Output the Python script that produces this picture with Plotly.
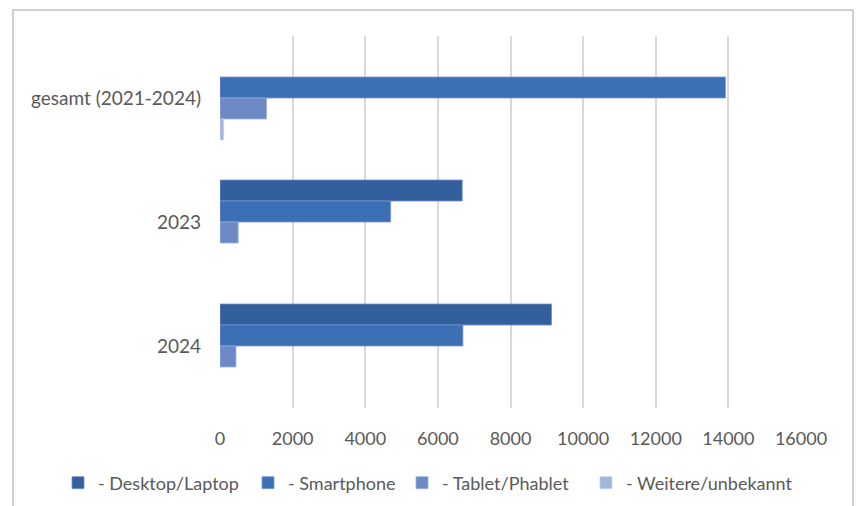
import plotly.graph_objects as go

categories = ["gesamt (2021-2024)", "2023", "2024"]
series_names = ["- Desktop/Laptop", "- Smartphone", "- Tablet/Phablet", "- Weitere/unbekannt"]
desktop = [None, 6670, 9130]
smartphone = [13920, 4700, 6690]
tablet = [1280, 500, 440]
weitere = [100, None, None]
x_ticks = [0, 2000, 4000, 6000, 8000, 10000, 12000, 14000, 16000]

colors = ["#335F9D", "#3D6FB5", "#6D8AC7", "#A3B5DD"]
edge = ["#6F8FCB", "#7A9AD3", "#9AB0DC", "#C3D0EA"]
values = [desktop, smartphone, tablet, weitere]

W, H = 856, 506
L, R, T, B = 220, 801, 36, 408
pw, ph = R - L, B - T

# legend symbol centers (px) for each entry
legend_sym_x = [78, 268, 422, 606]
legend_names = ["legend", "legend2", "legend3", "legend4"]

fig = go.Figure()
for name, vals, c, e, lg in zip(series_names, values, colors, edge, legend_names):
    fig.add_trace(go.Bar(
        y=categories, x=vals, name=name, orientation="h",
        marker=dict(color=c, line=dict(color=e, width=0.8)),
        legend=lg, showlegend=True,
    ))

def px_x(v):
    return (v - L) / pw

def px_y(v):
    return (B - v) / ph

legend_common = dict(
    orientation="h", xref="container", yref="container",
    xanchor="left", y=1 - 483 / H, yanchor="middle",
    font=dict(family="Lato, Calibri, sans-serif", size=18, color="#595959"),
    bgcolor="rgba(0,0,0,0)", borderwidth=0, visible=True,
)

layout_legends = {}
for lg, sx in zip(legend_names, legend_sym_x):
    layout_legends[lg] = dict(legend_common, x=(sx - 20) / W)

fig.update_layout(
    width=W, height=H, showlegend=True,
    margin=dict(l=L, r=W - R, t=T, b=H - B),
    paper_bgcolor="white", plot_bgcolor="white",
    barmode="group", bargap=0.323, bargroupgap=0,
    font=dict(family="Lato, Calibri, sans-serif", size=18, color="#595959"),
    xaxis=dict(
        range=[0, 16000], tickvals=x_ticks, ticktext=[str(v) for v in x_ticks],
        showgrid=True, gridcolor="#D9D9D9", gridwidth=1.5,
        zeroline=False, showline=False, ticks="", ticklabelstandoff=18,
        tickfont=dict(size=18, color="#595959"),
    ),
    yaxis=dict(
        autorange="reversed", showgrid=False, zeroline=False, showline=False,
        ticks="", ticklabelstandoff=18,
        tickfont=dict(size=19, color="#595959"),
    ),
    shapes=[dict(
        type="rect", xref="paper", yref="paper",
        x0=px_x(13), x1=px_x(853), y0=px_y(520), y1=px_y(10),
        line=dict(color="#D0D0D0", width=2), fillcolor="rgba(0,0,0,0)",
        layer="below",
    )],
    **layout_legends,
)

fig.write_html(
    "out.html",
    config={"displayModeBar": False},
    post_script="document.body.style.margin='0px';document.body.style.overflow='hidden';",
)
